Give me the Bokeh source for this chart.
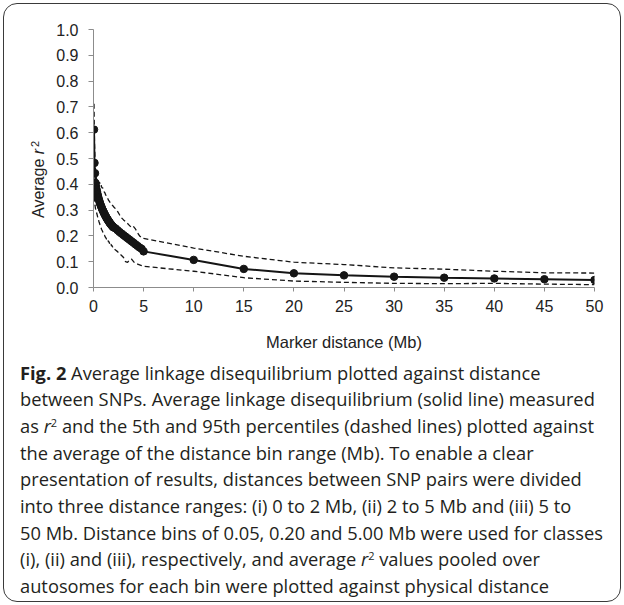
from bokeh.plotting import figure
from bokeh.models import FixedTicker, PrintfTickFormatter, Div
from bokeh.layouts import column, row
from bokeh.embed import file_html
from bokeh.resources import INLINE

# ---------------- data ----------------
# distance bins (Mb): class (i) 0.05 Mb bins, class (ii) 0.20 Mb bins, class (iii) 5 Mb bins
dist_i = [0.05, 0.10, 0.15, 0.20, 0.25, 0.30, 0.35, 0.40, 0.45, 0.50,
          0.55, 0.60, 0.65, 0.70, 0.75, 0.80, 0.85, 0.90, 0.95, 1.00,
          1.05, 1.10, 1.15, 1.20, 1.25, 1.30, 1.35, 1.40, 1.45, 1.50,
          1.55, 1.60, 1.65, 1.70, 1.75, 1.80, 1.85, 1.90, 1.95, 2.00]
dist_ii = [2.2, 2.4, 2.6, 2.8, 3.0, 3.2, 3.4, 3.6, 3.8, 4.0, 4.2, 4.4, 4.6, 4.8, 5.0]
dist_iii = [10, 15, 20, 25, 30, 35, 40, 45, 50]

mean_i = [0.612, 0.483, 0.443, 0.405, 0.392, 0.381, 0.371, 0.362, 0.354, 0.346,
          0.339, 0.333, 0.327, 0.321, 0.316, 0.311, 0.306, 0.301, 0.297, 0.293,
          0.289, 0.285, 0.281, 0.277, 0.274, 0.270, 0.267, 0.264, 0.261, 0.258,
          0.255, 0.252, 0.249, 0.247, 0.244, 0.242, 0.239, 0.237, 0.235, 0.233]
mean_ii = [0.229, 0.222, 0.215, 0.209, 0.203, 0.197, 0.191, 0.185, 0.179, 0.173,
           0.167, 0.161, 0.155, 0.150, 0.140]
mean_iii = [0.107, 0.072, 0.055, 0.047, 0.042, 0.038, 0.035, 0.032, 0.029]

p95_i = [0.712, 0.560, 0.500, 0.455, 0.432, 0.421, 0.418, 0.413, 0.417, 0.410,
         0.404, 0.408, 0.400, 0.396, 0.399, 0.391, 0.386, 0.388, 0.380, 0.376,
         0.372, 0.368, 0.366, 0.360, 0.357, 0.352, 0.350, 0.345, 0.343, 0.338,
         0.336, 0.333, 0.330, 0.327, 0.325, 0.322, 0.320, 0.318, 0.316, 0.313]
p95_ii = [0.305, 0.295, 0.282, 0.270, 0.262, 0.255, 0.248, 0.240, 0.232, 0.236,
          0.226, 0.212, 0.200, 0.194, 0.190]
p95_iii = [0.153, 0.121, 0.098, 0.089, 0.076, 0.071, 0.063, 0.057, 0.056]

p5_i = [0.352, 0.335, 0.318, 0.306, 0.298, 0.291, 0.284, 0.276, 0.268, 0.262,
        0.255, 0.249, 0.243, 0.238, 0.232, 0.226, 0.222, 0.218, 0.213, 0.209,
        0.205, 0.203, 0.197, 0.194, 0.192, 0.187, 0.186, 0.180, 0.183, 0.176,
        0.178, 0.170, 0.173, 0.166, 0.168, 0.161, 0.163, 0.157, 0.158, 0.152]
p5_ii = [0.145, 0.139, 0.131, 0.124, 0.116, 0.100, 0.097, 0.108, 0.110, 0.100,
         0.094, 0.091, 0.088, 0.085, 0.082]
p5_iii = [0.063, 0.038, 0.025, 0.020, 0.016, 0.015, 0.016, 0.013, 0.011]

x_ticks = [0, 5, 10, 15, 20, 25, 30, 35, 40, 45, 50]
y_ticks = [0.0, 0.1, 0.2, 0.3, 0.4, 0.5, 0.6, 0.7, 0.8, 0.9, 1.0]

x_label = "Marker distance (Mb)"
y_label_html = "Average&nbsp;<i>r</i><sup>2</sup>"

caption_lines = [
    "<b>Fig. 2</b> Average linkage disequilibrium plotted against distance",
    "between SNPs. Average linkage disequilibrium (solid line) measured",
    "as <i>r</i><sup>2</sup> and the 5th and 95th percentiles (dashed lines) plotted against",
    "the average of the distance bin range (Mb). To enable a clear",
    "presentation of results, distances between SNP pairs were divided",
    "into three distance ranges: (i) 0 to 2 Mb, (ii) 2 to 5 Mb and (iii) 5 to",
    "50 Mb. Distance bins of 0.05, 0.20 and 5.00 Mb were used for classes",
    "(i), (ii) and (iii), respectively, and average <i>r</i><sup>2</sup> values pooled over",
    "autosomes for each bin were plotted against physical distance",
]

dist = dist_i + dist_ii + dist_iii
mean_r2 = mean_i + mean_ii + mean_iii
p95 = p95_i + p95_ii + p95_iii
p5 = p5_i + p5_ii + p5_iii

# ---------------- layout sizes ----------------
BOX_W, BOX_H = 624, 605
YLAB_W = 50
FIG_W, FIG_H = BOX_W - YLAB_W, 358
LEFT, RIGHT, TOP, BOTTOM = 43, 30, 29, 71

ink = "#151515"
axis_col = "#8c8c8c"
lab_col = "#222222"

# ---------------- figure ----------------
p = figure(width=FIG_W, height=FIG_H, x_range=(0, 50), y_range=(0, 1),
           output_backend="svg", toolbar_location=None,
           min_border_left=LEFT, min_border_right=RIGHT,
           min_border_top=TOP, min_border_bottom=BOTTOM, margin=0)
p.xgrid.visible = False
p.ygrid.visible = False
p.outline_line_color = None
# transparent so the rounded frame drawn behind the figure stays visible
p.background_fill_color = None
p.border_fill_color = None

p.line(dist, p95, line_color=ink, line_width=1.3, line_dash="5 3")
p.line(dist, p5, line_color=ink, line_width=1.3, line_dash="5 3")
p.line(dist, mean_r2, line_color=ink, line_width=2)
p.scatter(dist, mean_r2, size=7.5, fill_color=ink, line_color=ink)

for ax in (p.xaxis[0], p.yaxis[0]):
    ax.axis_line_color = axis_col
    ax.major_tick_line_color = axis_col
    ax.minor_tick_line_color = None
    ax.major_tick_in = 0
    ax.major_label_text_font = "Liberation Sans"
    ax.major_label_text_font_size = "16px"
    ax.major_label_text_color = lab_col

p.xaxis.ticker = FixedTicker(ticks=x_ticks)
p.xaxis.major_tick_out = 4
p.xaxis.major_label_standoff = 8
p.xaxis.axis_label = x_label
p.xaxis.axis_label_text_font = "Liberation Sans"
p.xaxis.axis_label_text_font_size = "16.5px"
p.xaxis.axis_label_text_font_style = "normal"
p.xaxis.axis_label_text_color = lab_col
p.xaxis.axis_label_standoff = 18

p.yaxis.ticker = FixedTicker(ticks=y_ticks)
p.yaxis.formatter = PrintfTickFormatter(format="%.1f")
p.yaxis.major_tick_out = 5
p.yaxis.major_label_standoff = 10

# ---------------- y-axis title (rotated html text) ----------------
ylab_html = (
    f'<div style="position:relative;width:{YLAB_W}px;height:{FIG_H}px;">'
    '<div style="position:absolute;left:30.5px;top:218px;transform-origin:0 0;'
    'transform:rotate(-90deg);white-space:nowrap;font-family:\'Liberation Sans\';'
    f'font-size:16px;line-height:16px;color:{lab_col};">'
    + y_label_html.replace("<sup>", '<sup style="font-size:11px;line-height:0;'
                           'vertical-align:0.5em;margin-left:2px;">')
    + "</div></div>"
)
ylab = Div(text=ylab_html, width=YLAB_W, height=FIG_H, margin=0)

# ---------------- caption ----------------
CAP_H = BOX_H - FIG_H
cap_html = (
    '<div style="font-family:\'Open Sans\';font-size:18.3px;line-height:26.7px;'
    'color:#231f20;padding:1.5px 0 0 20px;white-space:nowrap;">'
    + "<br>".join(caption_lines).replace(
        "<sup>", '<sup style="font-size:11px;line-height:0;vertical-align:0.55em;">')
    + "</div>"
)
cap = Div(text=cap_html, width=BOX_W, height=CAP_H, margin=0)

layout = column(row(ylab, p, margin=0), cap, margin=0,
                styles={"outline": "1.6px solid #3a3a3a", "outline-offset": "-4.6px",
                        "border-radius": "17px", "background-color": "white"})

open("out.html", "w").write(file_html(layout, INLINE))
